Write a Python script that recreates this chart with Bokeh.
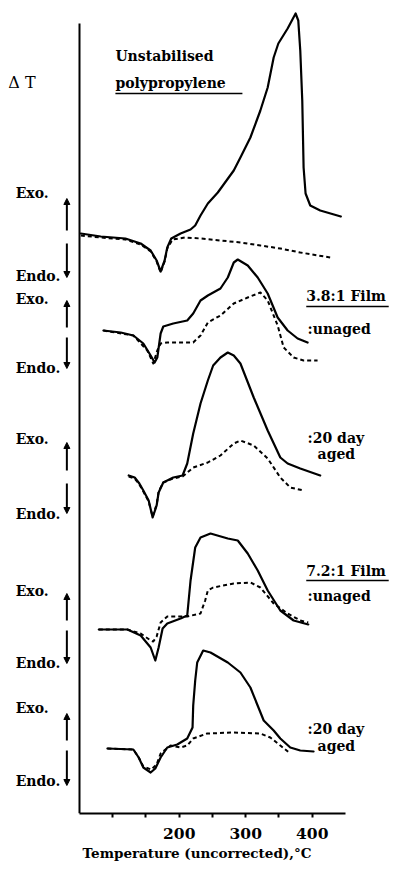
from bokeh.plotting import figure
from bokeh.models import Range1d, LinearAxis, FixedTicker, Label, Arrow, NormalHead
from bokeh.embed import file_html
from bokeh.resources import INLINE

# ---- data: temperature (deg C) and Delta T (arbitrary, stacked traces) ----
unstab_solid_T = [52, 82, 119, 142, 157, 166, 172, 178, 182, 188, 202, 217, 224, 232, 243, 258, 282, 292, 307, 322, 333, 342, 349, 363, 375, 379, 382, 385, 387, 390, 397, 412, 443]
unstab_solid_dT = [580, 577, 575, 570, 563, 553, 542, 553, 566, 575, 580, 584, 588, 598, 610, 621, 643, 656, 676, 703, 726, 756, 770, 785, 800, 793, 763, 713, 646, 620, 608, 603, 597]
unstab_dash_T = [52, 82, 119, 142, 157, 166, 172, 178, 182, 190, 209, 232, 262, 292, 322, 352, 382, 427]
unstab_dash_dT = [578, 576, 574, 569, 562, 552, 541, 552, 565, 574, 576, 575, 573, 571, 568, 565, 561, 556]

f38_unaged_solid_T = [86, 112, 131, 146, 157, 163, 167, 172, 176, 191, 212, 221, 232, 243, 262, 273, 282, 288, 303, 318, 333, 348, 363, 378, 393]
f38_unaged_solid_dT = [483, 481, 478, 470, 458, 451, 456, 480, 487, 490, 493, 500, 513, 518, 525, 536, 551, 554, 548, 536, 520, 496, 483, 475, 471]
f38_unaged_dash_T = [86, 131, 152, 161, 167, 172, 182, 221, 232, 243, 262, 282, 303, 322, 333, 348, 357, 372, 387, 408]
f38_unaged_dash_dT = [483, 478, 463, 450, 463, 470, 471, 471, 478, 491, 498, 510, 516, 521, 513, 488, 466, 456, 453, 453]

f38_aged_solid_T = [124, 133, 140, 146, 154, 160, 166, 169, 176, 191, 205, 212, 221, 232, 243, 251, 262, 273, 282, 292, 312, 333, 352, 363, 382, 412]
f38_aged_solid_dT = [338, 336, 330, 323, 313, 296, 308, 321, 331, 336, 338, 350, 380, 410, 433, 448, 456, 461, 458, 450, 416, 383, 356, 350, 345, 338]
f38_aged_dash_T = [124, 133, 140, 146, 154, 160, 166, 169, 176, 191, 205, 221, 243, 262, 282, 292, 312, 333, 352, 367, 387]
f38_aged_dash_dT = [337, 335, 329, 322, 312, 297, 309, 322, 331, 335, 337, 346, 351, 358, 370, 373, 368, 355, 336, 326, 323]

f72_unaged_solid_T = [79, 122, 142, 157, 164, 169, 175, 182, 202, 212, 217, 224, 232, 247, 273, 288, 303, 318, 333, 352, 372, 394]
f72_unaged_solid_dT = [184, 184, 178, 166, 153, 166, 185, 190, 195, 198, 233, 266, 276, 280, 275, 273, 260, 243, 223, 203, 193, 189]
f72_unaged_dash_T = [79, 122, 142, 157, 161, 166, 172, 182, 212, 232, 239, 243, 251, 282, 307, 322, 342, 363, 382, 394]
f72_unaged_dash_dT = [184, 184, 180, 173, 172, 177, 191, 197, 197, 200, 213, 223, 226, 230, 231, 226, 210, 200, 193, 191]

f72_aged_solid_T = [92, 131, 139, 146, 157, 164, 172, 182, 197, 212, 220, 221, 224, 227, 236, 247, 273, 292, 307, 327, 342, 352, 367, 382, 402]
f72_aged_solid_dT = [65, 64, 56, 46, 41, 45, 56, 66, 69, 75, 86, 108, 133, 151, 163, 161, 151, 141, 126, 93, 83, 75, 66, 63, 62]
f72_aged_dash_T = [92, 131, 139, 146, 158, 166, 172, 187, 202, 212, 221, 242, 282, 322, 337, 352, 367]
f72_aged_dash_dT = [65, 64, 56, 47, 44, 49, 60, 68, 66, 68, 75, 80, 81, 80, 76, 68, 60]

x_major_ticks = [200, 300, 400]
x_minor_ticks = [100, 150, 250, 350]
x_label = "Temperature (uncorrected),\u00b0C"

FONT = "DejaVu Serif"

p = figure(frame_width=393, frame_height=813,
           x_range=Range1d(-68.8, 522.2), y_range=Range1d(0, 813),
           output_backend="svg", toolbar_location=None, y_axis_location=None,
           min_border_left=0, min_border_right=0, min_border_top=0, min_border_bottom=0)
p.outline_line_color = None
p.grid.visible = False
p.background_fill_color = "white"

# x axis
xa = p.xaxis[0]
xa.bounds = (50, 450)
xa.ticker = FixedTicker(ticks=x_major_ticks, minor_ticks=x_minor_ticks)
xa.axis_line_width = 2
xa.major_tick_in = 0
xa.major_tick_out = 4
xa.minor_tick_in = 0
xa.minor_tick_out = 4
xa.major_tick_line_width = 2
xa.minor_tick_line_width = 2
xa.major_label_text_font = FONT
xa.major_label_text_font_style = "bold"
xa.major_label_text_font_size = "15.5px"
xa.major_label_text_color = "black"
xa.major_label_standoff = 10
xa.axis_label = x_label
xa.axis_label_text_font = FONT
xa.axis_label_text_font_style = "bold"
xa.axis_label_text_font_size = "13.5px"
xa.axis_label_text_color = "black"
xa.axis_label_standoff = 3

# y axis drawn at T = 50
ya = LinearAxis(fixed_location=50, bounds=(0, 790), ticker=FixedTicker(ticks=[]),
                major_tick_out=0, major_tick_in=0, minor_tick_out=0, minor_tick_in=0,
                major_label_text_font_size="0px", axis_line_width=2)
p.add_layout(ya, "left")

curves = [
    (unstab_solid_T, unstab_solid_dT, unstab_dash_T, unstab_dash_dT),
    (f38_unaged_solid_T, f38_unaged_solid_dT, f38_unaged_dash_T, f38_unaged_dash_dT),
    (f38_aged_solid_T, f38_aged_solid_dT, f38_aged_dash_T, f38_aged_dash_dT),
    (f72_unaged_solid_T, f72_unaged_solid_dT, f72_unaged_dash_T, f72_unaged_dash_dT),
    (f72_aged_solid_T, f72_aged_solid_dT, f72_aged_dash_T, f72_aged_dash_dT),
]
for sT, sY, dT, dY in curves:
    p.line(dT, dY, line_color="black", line_width=2, line_dash="4 3", line_join="round")
    p.line(sT, sY, line_color="black", line_width=2.2, line_join="round", line_cap="round")

def lab(x, y, text, size="14px", style="bold"):
    p.add_layout(Label(x=x, y=y, text=text, text_font=FONT, text_font_style=style,
                       text_font_size=size, text_baseline="middle", text_color="black"))

# left annotations: Exo/Endo with arrows
panels = [
    (621, 538, (583, 615), (570, 536)),
    (515, 446, (486, 513), (476, 445)),
    (375, 300, (343, 371), (330, 300)),
    (223, 151, (193, 220), (183, 150)),
    (106, 33, (73, 100), (63, 28)),
]
for exo_y, endo_y, up, down in panels:
    lab(-46, exo_y, "Exo.")
    lab(-46, endo_y, "Endo.")
    for y0, y1 in (up, down):
        p.add_layout(Arrow(x_start=31, y_start=y0, x_end=31, y_end=y1, line_width=2,
                           end=NormalHead(size=6, fill_color="black", line_color="black", line_width=1)))

lab(-57, 731, "\u0394 T", "16px", "normal")

# right-side labels
lab(104, 758, "Unstabilised")
lab(104, 731, "polypropylene")
lab(391, 518, "3.8:1 Film")
lab(393, 485, ":unaged")
lab(393, 376, ":20 day")
lab(408, 360, "aged")
lab(391, 243, "7.2:1 Film")
lab(393, 218, ":unaged")
lab(393, 85, ":20 day")
lab(408, 68, "aged")

for x0, x1, yy in [(104, 295, 720), (391, 515, 507), (391, 515, 233)]:
    p.add_layout(Arrow(x_start=x0, y_start=yy, x_end=x1, y_end=yy, line_width=1.5, end=None, start=None))

open("out.html", "w").write(file_html(p, INLINE))
